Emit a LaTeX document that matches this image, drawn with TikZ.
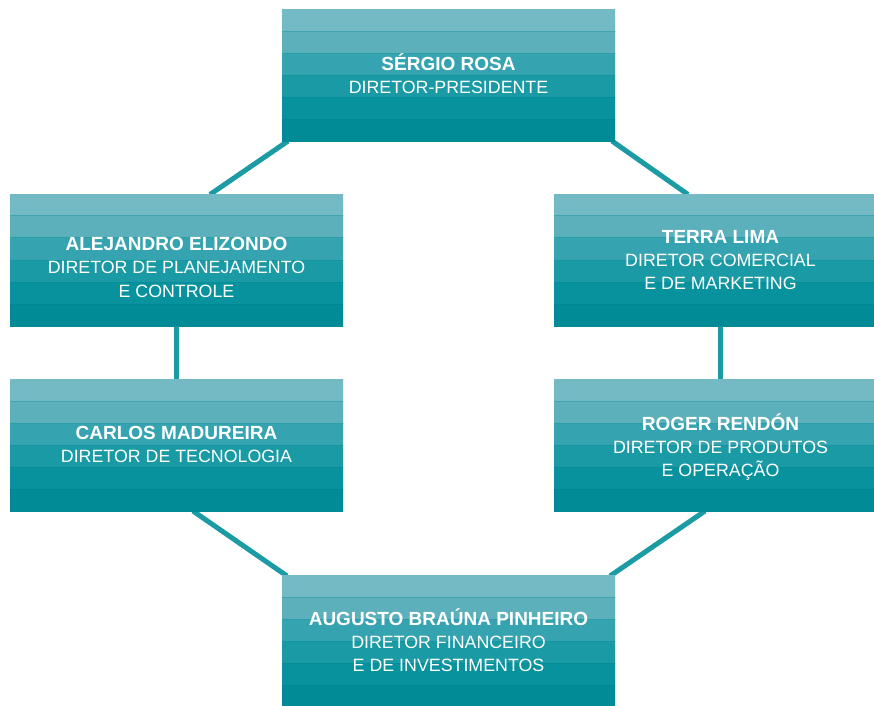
\documentclass[tikz,border=0pt]{standalone}
\usepackage{fontspec}
\setmainfont{Liberation Sans}
\usetikzlibrary{calc,backgrounds}
\definecolor{sa}{HTML}{74BAC4}
\definecolor{sb}{HTML}{5CB0BC}
\definecolor{sc}{HTML}{36A4B0}
\definecolor{sd}{HTML}{1A9AA5}
\definecolor{se}{HTML}{07929D}
\definecolor{sf}{HTML}{008B96}
\definecolor{la}{HTML}{3FA6B1}
\definecolor{lb}{HTML}{2A9EA9}
\definecolor{lc}{HTML}{1495A0}
\definecolor{ld}{HTML}{058E99}
\definecolor{le}{HTML}{008892}
\definecolor{linkc}{HTML}{1B9BA4}
\tikzset{
  x=1pt, y=-1pt,
  orgbox/.style={minimum width=333pt, minimum height=133pt, inner sep=0pt, outer sep=0pt,
    path picture={
      \foreach \c [count=\i from 0] in {sa,sb,sc,sd,se,sf}{
        \fill[\c] ($(path picture bounding box.north west)+(0,\i*22.1667)$) rectangle ++(340,22.1667);
      }
      \foreach \c [count=\i from 1] in {la,lb,lc,ld,le}{
        \draw[\c,line width=1pt] ($(path picture bounding box.north west)+(0,\i*22.1667)$) -- ++(340,0);
      }
    }},
  nametxt/.style={anchor=base, inner sep=0pt, text=white, font=\fontsize{19}{23}\selectfont\bfseries},
  subtxt/.style={anchor=base, inner sep=0pt, text=white, font=\fontsize{17.8}{23}\selectfont},
  link/.style={draw=linkc, line width=5pt}
}
\begin{document}
\begin{tikzpicture}
\useasboundingbox (0,0) rectangle (874,705);
\node[orgbox] (top) at (448.5,75.5) {};
\node[orgbox] (l1) at (176.5,260) {};
\node[orgbox] (r1) at (720.5,260) {};
\node[orgbox] (l2) at (176.5,445.5) {};
\node[orgbox] (r2) at (720.5,445.5) {};
\node[orgbox] (bt) at (448.5,641.5) {};

\node[nametxt] (topn) at ($(top.north)+(0,61)$) {SÉRGIO ROSA};
\node[subtxt] (tops) at ($(top.north)+(0,84.5)$) {DIRETOR-PRESIDENTE};

\node[nametxt] (l1n) at ($(l1.north)+(0,57)$) {ALEJANDRO ELIZONDO};
\node[subtxt] (l1s) at ($(l1.north)+(0,80.25)$) {DIRETOR DE PLANEJAMENTO};
\node[subtxt] (l1t) at ($(l1.north)+(0,103.5)$) {E CONTROLE};

\node[nametxt] (r1n) at ($(r1.north)+(0,49.5)$) {TERRA LIMA};
\node[subtxt] (r1s) at ($(r1.north)+(0,72.75)$) {DIRETOR COMERCIAL};
\node[subtxt] (r1t) at ($(r1.north)+(0,96)$) {E DE MARKETING};

\node[nametxt] (l2n) at ($(l2.north)+(0,60.5)$) {CARLOS MADUREIRA};
\node[subtxt] (l2s) at ($(l2.north)+(0,83.75)$) {DIRETOR DE TECNOLOGIA};

\node[nametxt] (r2n) at ($(r2.north)+(0,51)$) {ROGER RENDÓN};
\node[subtxt] (r2s) at ($(r2.north)+(0,74.25)$) {DIRETOR DE PRODUTOS};
\node[subtxt] (r2t) at ($(r2.north)+(0,97.5)$) {E OPERAÇÃO};

\node[nametxt] (btn) at ($(bt.north)+(0,50)$) {AUGUSTO BRAÚNA PINHEIRO};
\node[subtxt] (bts) at ($(bt.north)+(0,73.25)$) {DIRETOR FINANCEIRO};
\node[subtxt] (btt) at ($(bt.north)+(0,96.5)$) {E DE INVESTIMENTOS};

\begin{scope}[on background layer]
\fill[white] (0,0) rectangle (874,705);
\draw[link] ($(top.south west)+(6,-1)$) -- ($(l1.north west)+(200,1)$);
\draw[link] ($(top.south east)+(-3,-1)$) -- ($(r1.north west)+(134,1)$);
\draw[link] (l1.south) -- (l2.north);
\draw[link] (r1.south) -- (r2.north);
\draw[link] ($(l2.south west)+(183,-1)$) -- ($(bt.north west)+(5,1)$);
\draw[link] ($(r2.south west)+(151,-1)$) -- ($(bt.north east)+(-5,1)$);
\end{scope}
\end{tikzpicture}
\end{document}
